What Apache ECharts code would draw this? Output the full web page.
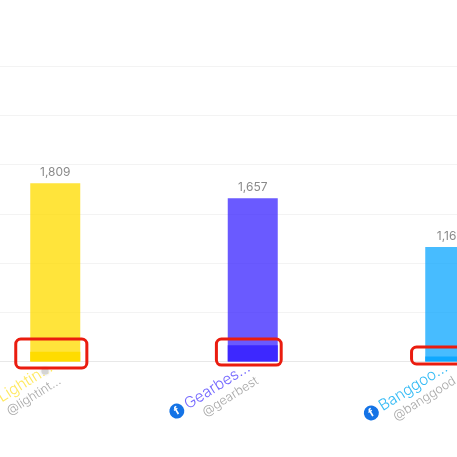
<!DOCTYPE html>
<html><head><meta charset="utf-8">
<style>html,body{margin:0;padding:0;background:#fff}#c{width:457px;height:457px}</style>
<script src="https://cdn.jsdelivr.net/npm/echarts@6/dist/echarts.min.js"></script>
</head><body><div id="c"></div>
<script>
const categories = ['Lightin...', 'Gearbes...', 'Banggoo...'];
const handles = ['@lightint...', '@gearbest', '@banggood'];
const totalValues = [1809, 1657, 1162];
const innerValues = [100, 165, 50];
const lightColors = ['#FFDC00', '#3D28FF', '#0FA8FF'];
const labelColors = ['#FFE95E', '#7468FF', '#35BBF5'];
const yTicks = {min: 0, max: 3000, interval: 500};
// highlight boxes: [x from, x to (in category bands), y low, y high (in value units)]
const highlightBoxes = [
  [0.30, 0.66, -66, 228],
  [1.316, 1.644, -36, 228],
  [2.304, 2.64, -25, 147]
];
const chart = echarts.init(document.getElementById('c'), null, {renderer: 'canvas'});
const FONT = 'Inter, "Noto Sans", sans-serif';
const rich = {
  icon: {backgroundColor: '#1473E6', color: '#fff', width: 15, height: 15, borderRadius: 7.5, align: 'center', fontSize: 11, fontWeight: 'bold', lineHeight: 15, fontFamily: FONT},
  handle: {color: '#A8A8A8', fontSize: 12.5, lineHeight: 15, fontFamily: FONT, fontWeight: 300, align: 'right'}
};
labelColors.forEach((c, i) => {
  rich['n' + i] = {color: c, fontSize: 15.5, lineHeight: 17, fontFamily: FONT, fontWeight: 300, padding: [0, 0, 0, 3]};
});
chart.setOption({
  animation: false,
  backgroundColor: '#fff',
  grid: {left: -43.5, width: 592.5, top: 66, height: 295.5, containLabel: false, outerBoundsMode: 'none'},
  xAxis: [
    {type: 'category', data: categories, axisTick: {show: false},
     axisLine: {lineStyle: {color: '#E8E8E8'}},
     axisLabel: {interval: 0, rotate: 32, margin: 11, hideOverlap: false,
       formatter: (v, i) => `{icon|f}{n${i}|${v}}\n{handle|${handles[i]}}`, rich}},
    {type: 'value', min: 0, max: 3, show: false}
  ],
  yAxis: {type: 'value', min: yTicks.min, max: yTicks.max, interval: yTicks.interval,
    axisLabel: {show: false}, axisLine: {show: false}, axisTick: {show: false},
    splitLine: {lineStyle: {color: '#F3F3F3'}}},
  series: [
    {type: 'bar', barWidth: 50, barGap: '-100%', z: 2, data: innerValues.map((v, i) => ({value: v, itemStyle: {color: lightColors[i]}}))},
    {type: 'bar', barWidth: 50, barGap: '-100%', z: 3,
     data: totalValues.map((v, i) => ({value: v, itemStyle: {color: lightColors[i], opacity: 0.77}})),
     label: {show: true, position: 'top', distance: 5, color: '#666', fontSize: 12, fontFamily: FONT,
       formatter: p => p.value.toLocaleString('en-US')}},
    {type: 'custom', xAxisIndex: 1, yAxisIndex: 0, z: 5, clip: false, silent: true,
     data: highlightBoxes,
     encode: {x: [0, 1], y: [2, 3]},
     renderItem: (params, api) => {
       const a = api.coord([api.value(0), api.value(3)]);
       const b = api.coord([api.value(1), api.value(2)]);
       return {type: 'rect', shape: {x: a[0], y: a[1], width: b[0] - a[0], height: b[1] - a[1], r: 5},
         style: {fill: 'none', stroke: '#EA1C0F', lineWidth: 3}};
     }}
  ],
  graphic: [{type: 'circle', shape: {cx: 45, cy: 371, r: 3.5}, style: {fill: '#D4D4D4', shadowBlur: 3, shadowColor: '#D4D4D4'}, z: 4}]
});
</script></body></html>
